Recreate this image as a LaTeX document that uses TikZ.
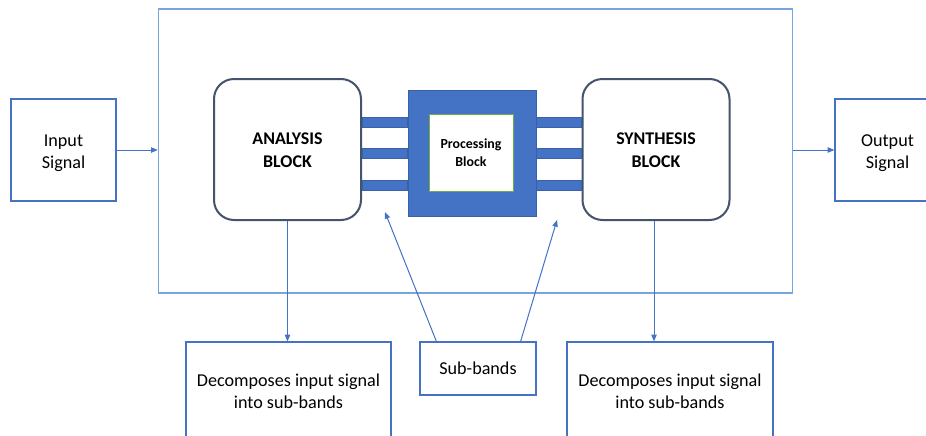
\documentclass[tikz,border=0pt]{standalone}
\usepackage{fontspec}
\setmainfont{Carlito}
\usetikzlibrary{arrows.meta,calc}
\definecolor{frameblue}{RGB}{120,165,222}
\definecolor{boxblue}{RGB}{68,114,196}
\definecolor{slate}{RGB}{68,84,106}
\definecolor{greenb}{RGB}{112,173,71}
\newcommand\lowtext[2]{\raisebox{-#1}[\height][\depth]{\begin{tabular}{@{}c@{}}#2\end{tabular}}}
\tikzset{
  plainbox/.style={draw=boxblue, line width=0.9pt, fill=white, align=center, inner sep=0pt,
    font=\fontsize{13.6}{16.5}\selectfont},
  roundbox/.style={draw=slate, line width=1.5pt, rounded corners=15pt, fill=white, align=center,
    font=\bfseries\fontsize{13.4}{17}\selectfont, minimum width=147*0.75pt, minimum height=141*0.75pt},
  conn/.style={draw=boxblue, line width=0.75pt, -{Triangle[length=5pt,width=4pt]}},
  bar/.style={draw=boxblue!85!black, line width=0.4pt, fill=boxblue},
}
\begin{document}
\begin{tikzpicture}[x=0.75pt,y=-0.75pt]
\useasboundingbox (0,0) rectangle (926,436);
\clip (0,0) rectangle (926,436);
\fill[white] (0,0) rectangle (926,436);
% frame
\node[draw=frameblue, line width=1.1pt, minimum width=634*0.75pt, minimum height=284*0.75pt, inner sep=0pt] (frame) at (475.5,151) {};
% input / output
\node[plainbox, minimum width=105*0.75pt, minimum height=102*0.75pt] (in) at (63.5,150) {\lowtext{2pt}{Input\\Signal}};
\node[plainbox, minimum width=105*0.75pt, minimum height=102*0.75pt] (out) at (887.5,150) {\lowtext{2pt}{Output\\Signal}};
% blocks
\node[roundbox] (ana) at (287.5,149.5) {\lowtext{1.5pt}{ANALYSIS\\BLOCK}};
\node[roundbox] (syn) at (656,149.5) {\lowtext{1.5pt}{SYNTHESIS\\BLOCK}};
\node[draw=boxblue!85!black, line width=0.5pt, fill=boxblue, minimum width=128*0.75pt, minimum height=126*0.75pt, inner sep=0pt] (proc) at (472,153) {};
\node[draw=greenb, line width=0.6pt, fill=white, minimum width=84*0.75pt, minimum height=77*0.75pt, inner sep=0pt, align=center, font=\bfseries\fontsize{10.4}{13.5}\selectfont] (inner) at (471,152.5) {Processing\\Block};
% bars
\foreach \yy/\nm in {122/b1,153.5/b2,185/b3}{
  \coordinate (\nm) at (0,\yy);
  \filldraw[bar] ($(ana.east |- \nm)+(0,-5)$) rectangle ($(proc.west |- \nm)+(0,5)$);
  \filldraw[bar] ($(proc.east |- \nm)+(0,-5)$) rectangle ($(syn.west |- \nm)+(0,5)$);
}
% bottom boxes
\node[plainbox, minimum width=205*0.75pt, minimum height=98*0.75pt] (dl) at (288.5,391) {Decomposes input signal\\into sub-bands};
\node[plainbox, minimum width=206*0.75pt, minimum height=98*0.75pt] (dr) at (670,391) {Decomposes input signal\\into sub-bands};
\node[plainbox, minimum width=116*0.75pt, minimum height=53*0.75pt] (sub) at (478,368.5) {Sub-bands};
% connectors
\draw[conn] (in.east) -- (frame.west |- in.east);
\draw[conn] (frame.east |- out.west) -- (out.west);
\draw[conn] (ana.south) -- (ana.south |- dl.north);
\draw[conn] ([xshift=-2*0.75pt]syn.south) -- ([xshift=-2*0.75pt]syn.south |- dr.north);
\coordinate (t1) at (385,212);
\coordinate (t2) at (557,220);
\draw[conn] ([xshift=17*0.75pt]sub.north west) -- (t1);
\draw[conn] ([xshift=-16*0.75pt]sub.north east) -- (t2);
\end{tikzpicture}
\end{document}
